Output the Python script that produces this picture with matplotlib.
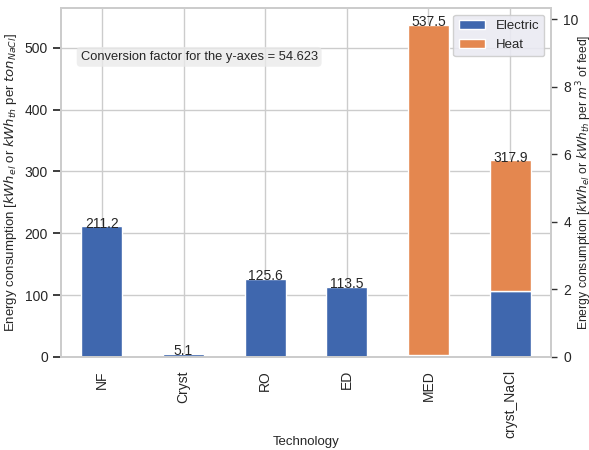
import matplotlib
matplotlib.use("Agg")
import matplotlib.pyplot as plt
import numpy as np
import pandas
import seaborn as sns

TECHNOLOGIES = ["NF", "Cryst", "RO", "ED", "MED", "cryst_NaCl"]
ELECTRIC = [211.2, 5.1, 125.6, 113.5, 3.0, 107.0]
HEAT = [0.0, 0.0, 0.0, 0.0, 534.5, 210.9]
TOTALS = [211.2, 5.1, 125.6, 113.5, 537.5, 317.9]
CONVERSION = 54.623

sns.set_theme(style="whitegrid", font_scale=0.8)
plt.rcParams['font.family'] = ['Liberation Sans', 'DejaVu Sans']

frame = pandas.DataFrame({"Electric": ELECTRIC, "Heat": HEAT}, index=TECHNOLOGIES)
frame.index.name = "Technology"

fig = plt.figure(figsize=(5.89, 4.5), dpi=100)
ax = fig.add_axes([61 / 589, 1 - 357 / 450, 490 / 589, 349 / 450])
frame.plot(kind="bar", stacked=True, ax=ax, color=["#3F67AE", "#E4874F"], width=0.5)

ymax = max(TOTALS) * 1.05
ax.set_ylim(0, ymax)
ax.set_ylabel(r"Energy consumption [$kWh_{el}$ or $kWh_{th}$ per $ton_{NaCl}$]", fontsize=9.5)
ax.yaxis.set_label_coords(-0.085, 0.5)
ax.set_xlabel("Technology", fontsize=9.5)
ax.xaxis.set_label_coords(0.5, -0.225)
ax.tick_params(labelsize=10)

for i, total in enumerate(TOTALS):
    ax.annotate(f"{total}", (i, total), ha="center", va="bottom", fontsize=10,
                xytext=(0, -3), textcoords="offset points")

ax.text(0.04, 0.86, f"Conversion factor for the y-axes = {CONVERSION}", transform=ax.transAxes,
        fontsize=9.3, va="center",
        bbox=dict(boxstyle="round,pad=0.3", facecolor="#eaeaea", edgecolor="none", alpha=0.8))

ax.legend(loc="upper right", facecolor="#eaeaf2", edgecolor="#cccccc", framealpha=0.9, fontsize=9.5)

ax2 = ax.twinx()
ax2.set_ylim(0, ymax / CONVERSION)
ax2.grid(False)
ax2.tick_params(axis="y", length=4, width=1, color="#333333", labelsize=10, pad=5)
ax2.set_ylabel(r"Energy consumption [$kWh_{el}$ or $kWh_{th}$ per $m^3$ of feed]", fontsize=8.8)
ax2.yaxis.set_label_coords(1.047, 0.5)

fig.savefig("out.png", dpi=100)
